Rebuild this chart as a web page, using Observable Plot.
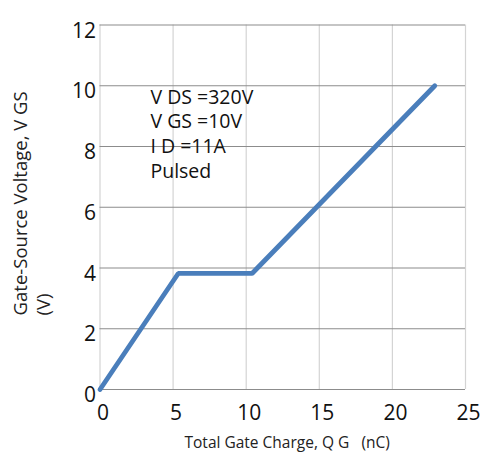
<!DOCTYPE html>
<html><head><meta charset="utf-8">
<script src="https://cdn.jsdelivr.net/npm/d3@7"></script>
<script src="https://cdn.jsdelivr.net/npm/@observablehq/plot@0.6"></script>
<style>
html,body{margin:0;padding:0;background:#fff;}
#chart{position:relative;width:486px;height:454px;font-family:"Open Sans",sans-serif;}
</style>
</head><body><div id="chart"></div>
<script>
const qg = [0, 5.35, 10.4, 22.9];
const vgs = [0, 3.82, 3.82, 10.0];
const xTicks = [0, 5, 10, 15, 20, 25];
const yTicks = [0, 2, 4, 6, 8, 10, 12];
const notes = ["V DS =320V", "V GS =10V", "I D =11A", "Pulsed"];
const noteY = [9.62, 8.8, 7.98, 7.16];
const xLabel = "Total Gate Charge, Q G   (nC)";
const yLabel1 = "Gate-Source Voltage, V GS";
const yLabel2 = "(V)";

const data = qg.map((x, i) => ({x, y: vgs[i]}));
const noteData = notes.map((t, i) => ({t, y: noteY[i]}));

const plot = Plot.plot({
  width: 486, height: 454,
  marginLeft: 99.5, marginRight: 21, marginTop: 24.5, marginBottom: 65,
  style: {fontFamily: "'Open Sans', sans-serif", background: "#fff", color: "#222"},
  x: {domain: [0, 25]},
  y: {domain: [0, 12]},
  marks: [
    Plot.ruleX(xTicks, {stroke: "#d4d4d4", strokeWidth: 1.2}),
    Plot.ruleY(yTicks, {stroke: "#8c8c8c", strokeWidth: 1.2}),
    Plot.text(noteData, {x: 3.45, y: "y", text: "t", textAnchor: "start", fontSize: 19.5, fill: "#111"}),
    Plot.line(data, {x: "x", y: "y", stroke: "#4a7ebb", strokeWidth: 4.8, strokeLinejoin: "miter"}),
    Plot.axisY(yTicks, {tickSize: 0, tickPadding: 4, dy: 6, fontSize: 21, label: null, fill: "#111"}),
    Plot.axisX(xTicks, {tickSize: 0, tickPadding: 16, dx: 3, fontSize: 21, label: null, fill: "#111"}),
    Plot.text([xLabel], {frameAnchor: "bottom", x: 12.8, dy: 54, text: d => d, fontSize: 15.5, fill: "#222", lineAnchor: "middle"}),
    Plot.text([yLabel1], {frameAnchor: "left", dx: -78.5, y: 2.44, text: d => d, rotate: -90, textAnchor: "start", fontSize: 18.5, fill: "#222"}),
    Plot.text([yLabel2], {frameAnchor: "left", dx: -55.5, y: 2.44, text: d => d, rotate: -90, textAnchor: "start", fontSize: 18.5, fill: "#222"})
  ]
});
document.getElementById("chart").appendChild(plot);
</script>
</body></html>
